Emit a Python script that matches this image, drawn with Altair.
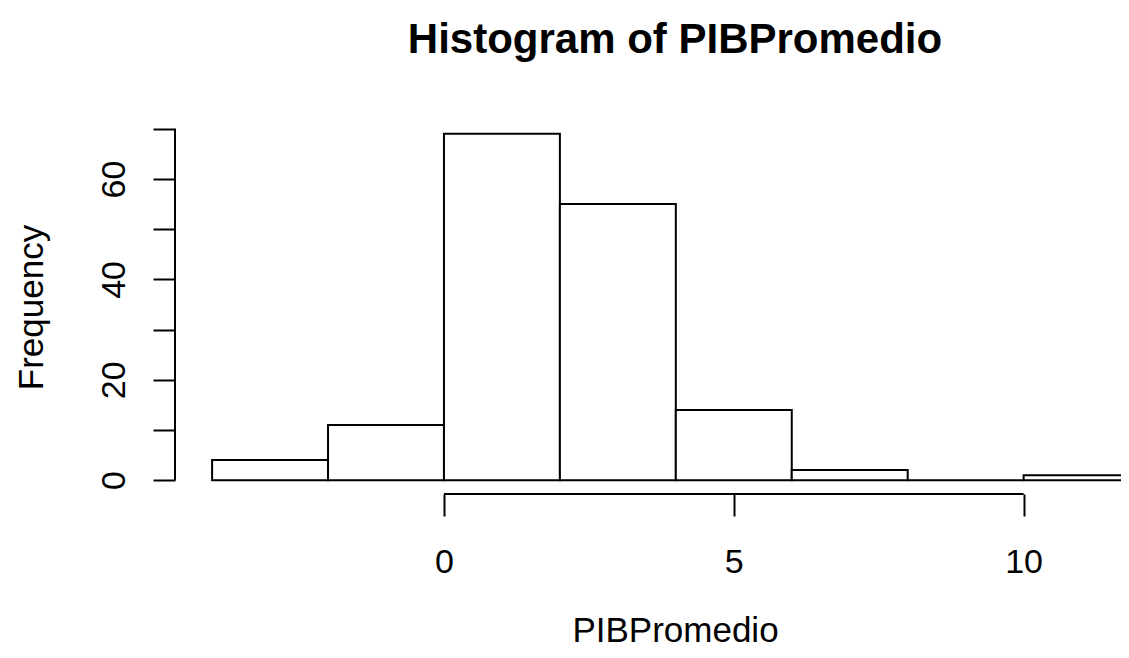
import altair as alt
import pandas as pd

# Histogram bins (width 2) and counts
bin_start = [-4, -2, 0, 2, 4, 6, 8, 10]
bin_end = [-2, 0, 2, 4, 6, 8, 10, 12]
counts = [4, 11, 69, 55, 14, 2, 0, 1]

x_ticks = [0, 5, 10]
y_ticks = [0, 10, 20, 30, 40, 50, 60, 70]

df = pd.DataFrame({"start": bin_start, "end": bin_end, "count": counts})
xaxis_df = pd.DataFrame({"a": [x_ticks[0]], "b": [x_ticks[-1]]})
yaxis_df = pd.DataFrame({"a": [y_ticks[0]], "b": [y_ticks[-1]]})

FONT = "Liberation Sans"
W, H = 946, 374

xscale = alt.Scale(domain=[-4.64, 11.68], nice=False, zero=False)
yscale = alt.Scale(domain=[-2.76, 71.76], nice=False, zero=False)

bars = alt.Chart(df).mark_rect(
    fill="white", stroke="black", strokeWidth=2, clip=True
).encode(
    x=alt.X("start:Q", scale=xscale, axis=alt.Axis(
        values=x_ticks, format="d", domain=False, grid=False, tickSize=22, tickWidth=2,
        tickColor="black", labelFont=FONT, labelFontSize=34, labelColor="black",
        labelBaseline="alphabetic", labelPadding=56, labelAlign="center",
        title="PIBPromedio", titleFont=FONT, titleFontSize=35, titleFontWeight="normal",
        titleColor="black", titleX=500, titleY=147, titleBaseline="alphabetic",
        titleAlign="center", labelFlush=False, labelOverlap=False,
    )),
    x2="end:Q",
    y=alt.Y("count:Q", scale=yscale, axis=alt.Axis(
        values=y_ticks, format="d", domain=False, grid=False, tickSize=22, tickWidth=2,
        tickColor="black", labelFont=FONT, labelFontSize=34, labelColor="black",
        labelAngle=270, labelAlign="center", labelBaseline="alphabetic",
        labelPadding=29, labelExpr="datum.value % 20 == 0 ? datum.label : ''",
        labelFlush=False, labelOverlap=False,
        title="Frequency", titleFont=FONT, titleFontSize=35, titleFontWeight="normal",
        titleColor="black", titleAngle=270, titleX=-133, titleY=187,
        titleBaseline="alphabetic", titleAlign="center",
    )),
    y2=alt.datum(0),
)

xline = alt.Chart(xaxis_df).mark_rule(color="black", strokeWidth=2).encode(
    x=alt.X("a:Q", scale=xscale), x2="b:Q", y=alt.value(H)
)
yline = alt.Chart(yaxis_df).mark_rule(color="black", strokeWidth=2).encode(
    y=alt.Y("a:Q", scale=yscale), y2="b:Q", x=alt.value(0)
)

chart = alt.layer(bars, xline, yline).properties(
    width=W, height=H,
    autosize=alt.AutoSizeParams(type="none"),
    padding={"left": 167, "top": 112, "right": 0, "bottom": 156},
    title=alt.TitleParams(
        "Histogram of PIBPromedio", font=FONT, fontSize=42, fontWeight="bold",
        color="black", anchor="middle", frame="group", dx=27, offset=25,
        baseline="alphabetic",
    ),
).configure_view(stroke=None)

chart.save("out.html", embed_options={"renderer": "svg", "actions": False})
